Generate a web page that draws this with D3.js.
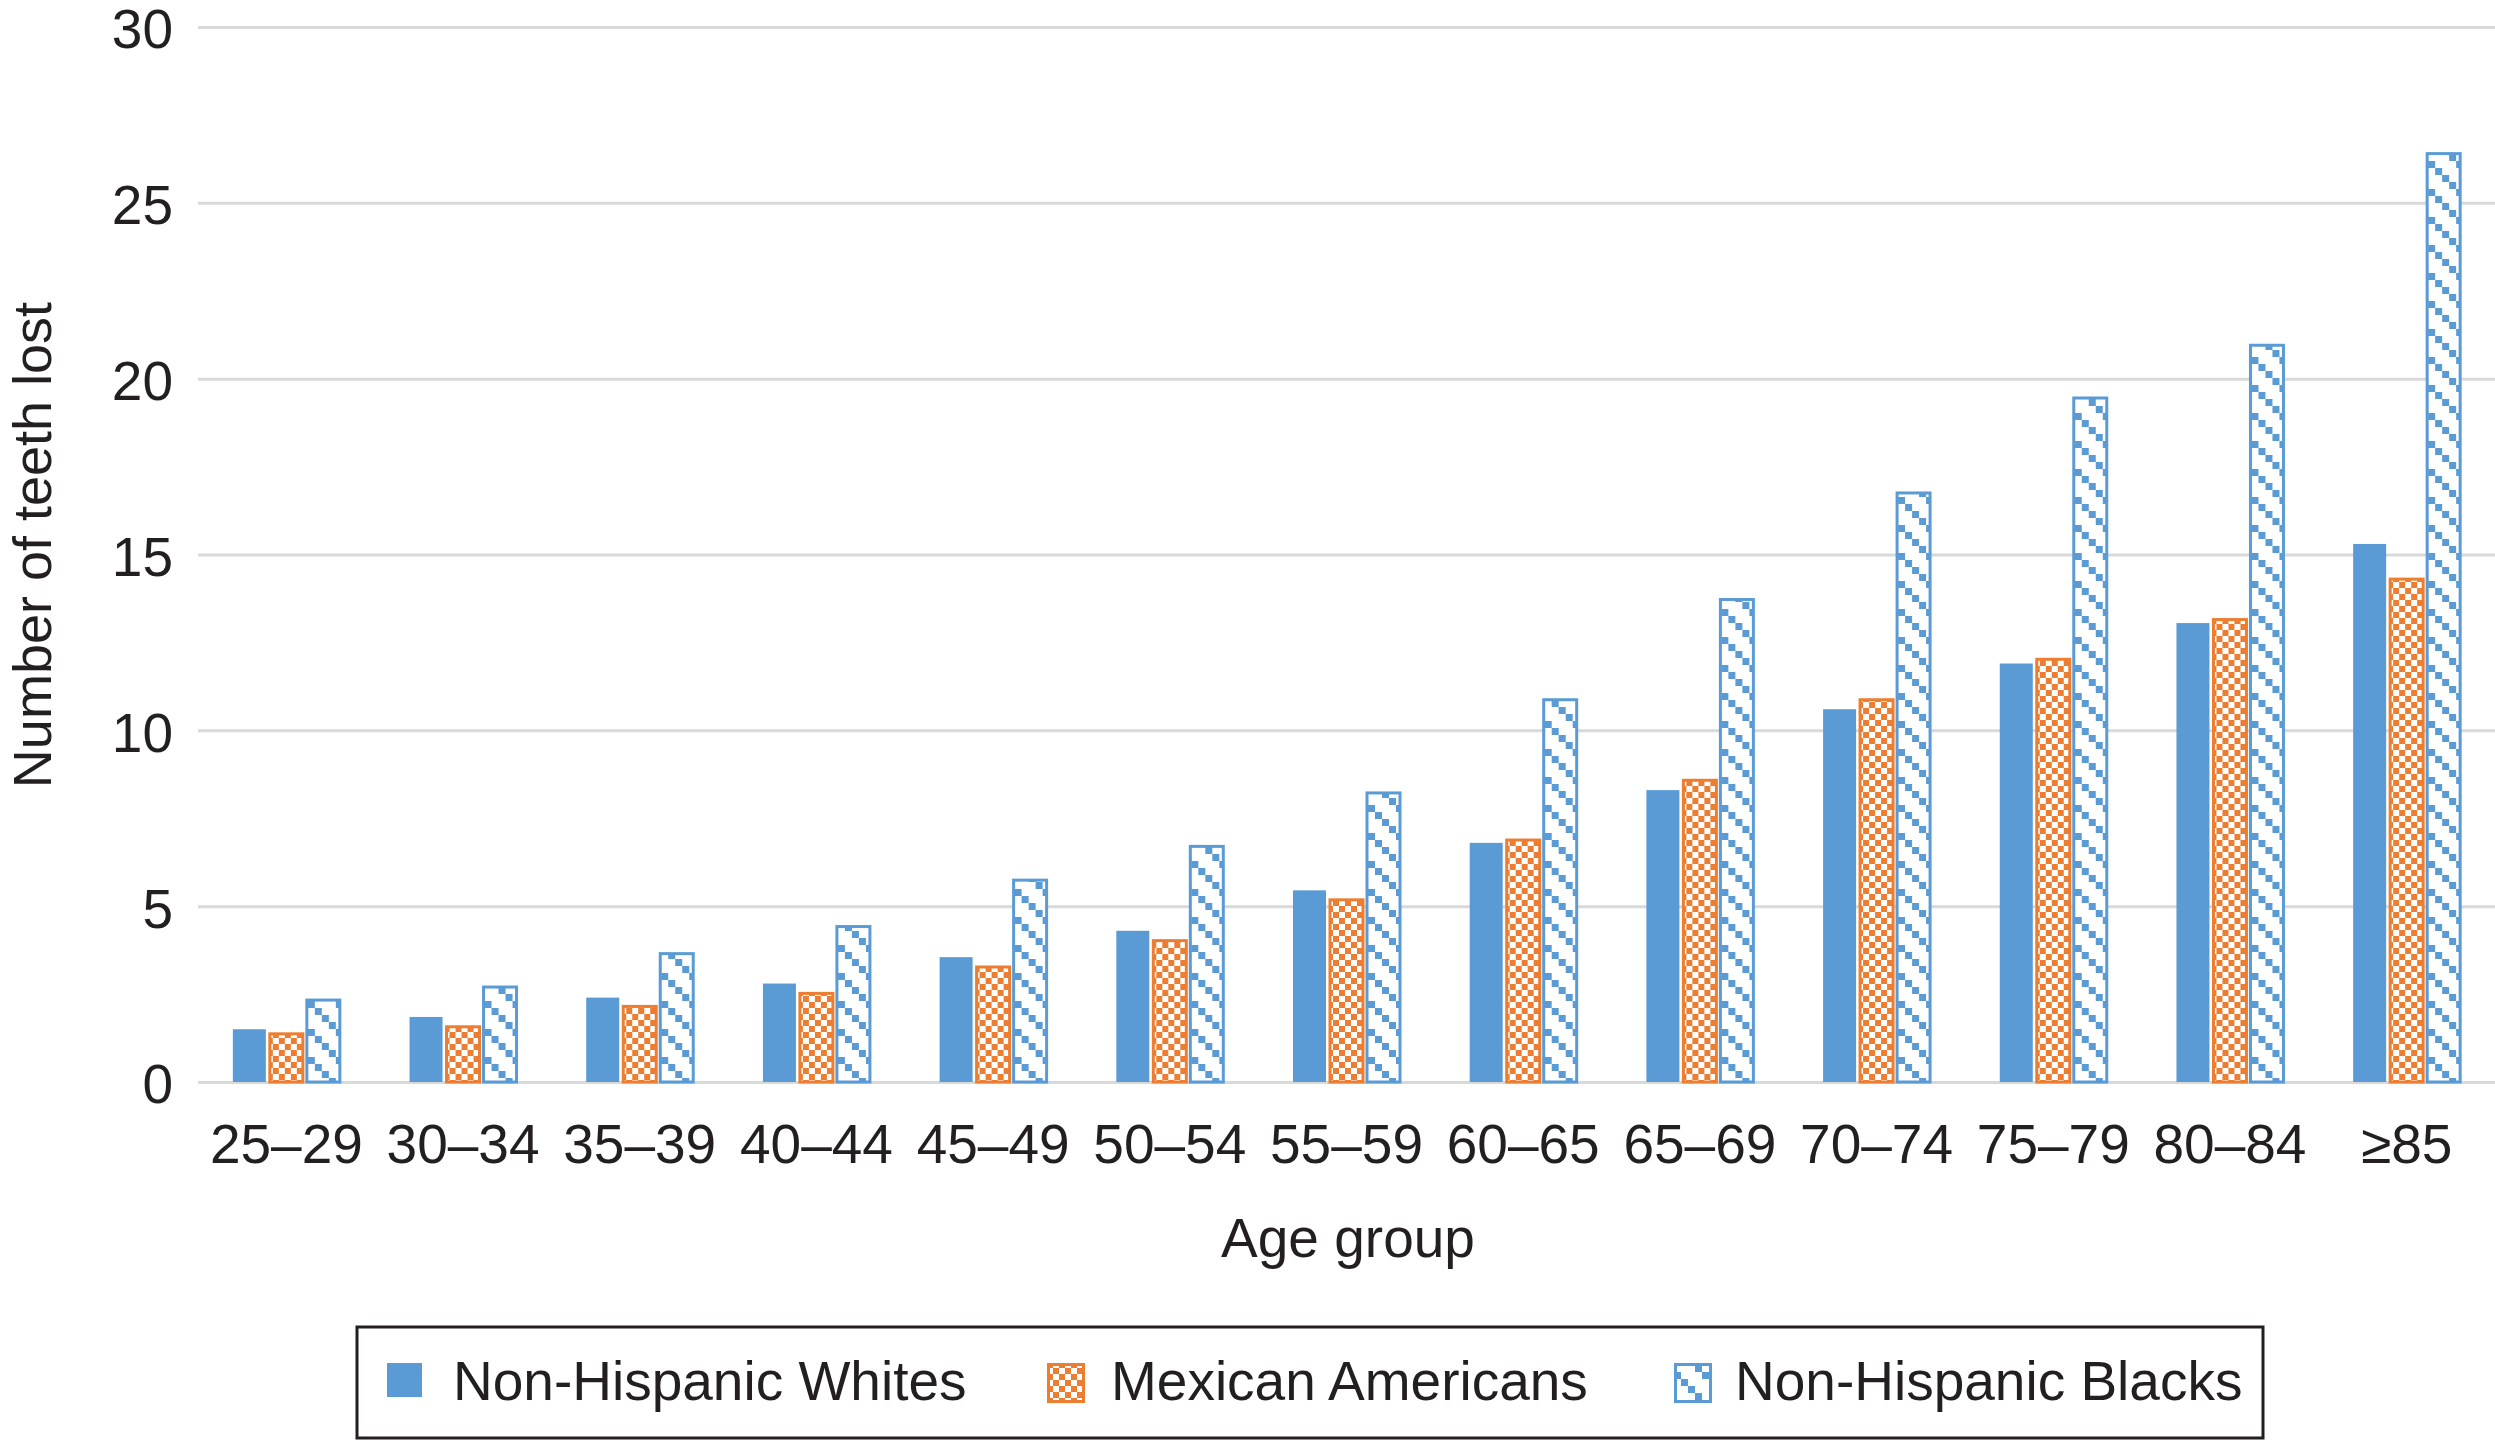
<!DOCTYPE html>
<html>

<head>
    <meta charset="utf-8">
    <style>
        body {
            margin: 0;
            background: #fff;
        }

        svg {
            display: block;
            font-family: 'Liberation Sans', Arial, sans-serif;
        }

        .y .tick text,
        .x .tick text {
            fill: #231f20;
            font-size: 55px;
        }

        .y .tick line {
            stroke: #d9d9d9;
            stroke-width: 3;
        }

        .y .domain,
        .x .domain {
            display: none;
        }

        .label {
            fill: #231f20;
        }
    </style>
</head>

<body>
    <svg width="2495" height="1442"></svg>
</body>

<script src="https://d3js.org/d3.v7.min.js"></script>

<script>
    // values
    let ageGroups = ["25–29", "30–34", "35–39", "40–44", "45–49", "50–54", "55–59", "60–65", "65–69", "70–74", "75–79", "80–84", "≥85"];
    let seriesNames = ["Non-Hispanic Whites", "Mexican Americans", "Non-Hispanic Blacks"];
    let whites = [1.5, 1.85, 2.4, 2.8, 3.55, 4.3, 5.45, 6.8, 8.3, 10.6, 11.9, 13.05, 15.3];
    let mexican = [1.37, 1.57, 2.15, 2.52, 3.27, 4.02, 5.18, 6.88, 8.58, 10.87, 12.02, 13.15, 14.3];
    let blacks = [2.33, 2.7, 3.65, 4.42, 5.74, 6.7, 8.22, 10.87, 13.72, 16.75, 19.45, 20.95, 26.4];
    let yTicks = [0, 5, 10, 15, 20, 25, 30];

    let svg = d3.select("svg");

    let margin = { top: 27, right: 0, bottom: 360, left: 198 };
    let width = 2495;
    let height = 1442;

    let data = ageGroups.map((g, i) => ({
        group: g,
        "Non-Hispanic Whites": whites[i],
        "Mexican Americans": mexican[i],
        "Non-Hispanic Blacks": blacks[i]
    }));

    let x = d3.scaleBand()
        .domain(ageGroups)
        .range([margin.left, width - margin.right]);

    let x1 = d3.scaleBand()
        .domain(seriesNames)
        .range([0, 111]);

    let y = d3.scaleLinear()
        .domain([0, 30])
        .range([1082, margin.top]);

    // patterns like the excel fills
    let defs = svg.append("defs");

    let check = defs.append("pattern")
        .attr("id", "check")
        .attr("patternUnits", "userSpaceOnUse")
        .attr("width", 12)
        .attr("height", 12);
    check.append("rect").attr("width", 12).attr("height", 12).attr("fill", "#ED7D31");
    check.append("rect").attr("x", 0).attr("y", 0).attr("width", 6).attr("height", 6).attr("fill", "#fff");
    check.append("rect").attr("x", 6).attr("y", 6).attr("width", 6).attr("height", 6).attr("fill", "#fff");

    let diag = defs.append("pattern")
        .attr("id", "diag")
        .attr("patternUnits", "userSpaceOnUse")
        .attr("width", 28)
        .attr("height", 28);
    diag.append("rect").attr("width", 28).attr("height", 28).attr("fill", "#fff");
    [0, 7, 14, 21].forEach(o => {
        diag.append("rect").attr("x", o).attr("y", o).attr("width", 7).attr("height", 7).attr("fill", "#5B9BD5");
    });

    let fills = {
        "Non-Hispanic Whites": "#5B9BD5",
        "Mexican Americans": "url(#check)",
        "Non-Hispanic Blacks": "url(#diag)"
    };
    let strokes = {
        "Non-Hispanic Whites": "none",
        "Mexican Americans": "#ED7D31",
        "Non-Hispanic Blacks": "#5B9BD5"
    };

    // gridlines + y labels
    let yAxisSettings = d3.axisLeft(y)
        .tickValues(yTicks)
        .tickSize(-(width - margin.left - margin.right))
        .tickPadding(25);

    svg.append("g")
        .attr("class", "y axis")
        .attr("transform", `translate(${margin.left},0)`)
        .call(yAxisSettings)
        .selectAll(".tick text")
        .attr("dy", "0.38em");

    let xAxisSettings = d3.axisBottom(x)
        .tickSize(0)
        .tickPadding(42);

    svg.append("g")
        .attr("class", "x axis")
        .attr("transform", `translate(0,${y(0)})`)
        .call(xAxisSettings);

    // bars
    let groups = svg.append("g")
        .selectAll("g")
        .data(data)
        .join("g")
        .attr("transform", d => `translate(${x(d.group) + (x.bandwidth() - 111) / 2},0)`);

    groups.selectAll("rect")
        .data(d => seriesNames.map(k => ({ key: k, value: d[k] })))
        .join("rect")
        .attr("x", d => x1(d.key) + 2)
        .attr("width", 33)
        .attr("y", d => y(d.value))
        .attr("height", d => y(0) - y(d.value))
        .attr("fill", d => fills[d.key])
        .attr("stroke", d => strokes[d.key])
        .attr("stroke-width", 3);

    // axis titles
    svg.append("text")
        .attr("class", "label")
        .attr("transform", "translate(51,545) rotate(-90)")
        .attr("text-anchor", "middle")
        .attr("font-size", "54px")
        .text("Number of teeth lost");

    svg.append("text")
        .attr("class", "label")
        .attr("x", 1348)
        .attr("y", 1257)
        .attr("text-anchor", "middle")
        .attr("font-size", "55px")
        .text("Age group");

    // legend
    svg.append("rect")
        .attr("x", 357)
        .attr("y", 1327)
        .attr("width", 1906)
        .attr("height", 111)
        .attr("fill", "none")
        .attr("stroke", "#231f20")
        .attr("stroke-width", 3);

    let legendX = [387, 1047, 1674];

    let legend = svg.append("g")
        .selectAll("g")
        .data(seriesNames)
        .join("g")
        .attr("transform", (d, i) => `translate(${legendX[i]},0)`);

    legend.append("rect")
        .attr("x", d => d == "Non-Hispanic Whites" ? 0 : 1.5)
        .attr("y", d => d == "Non-Hispanic Whites" ? 1363 : 1364.5)
        .attr("width", 35)
        .attr("height", d => d == "Non-Hispanic Whites" ? 34 : 37)
        .attr("fill", d => fills[d])
        .attr("stroke", d => strokes[d])
        .attr("stroke-width", 3);

    legend.append("text")
        .attr("class", "label")
        .attr("x", (d, i) => [66, 64, 61][i])
        .attr("y", 1400)
        .attr("font-size", "55px")
        .text(d => d);
</script>

</html>
